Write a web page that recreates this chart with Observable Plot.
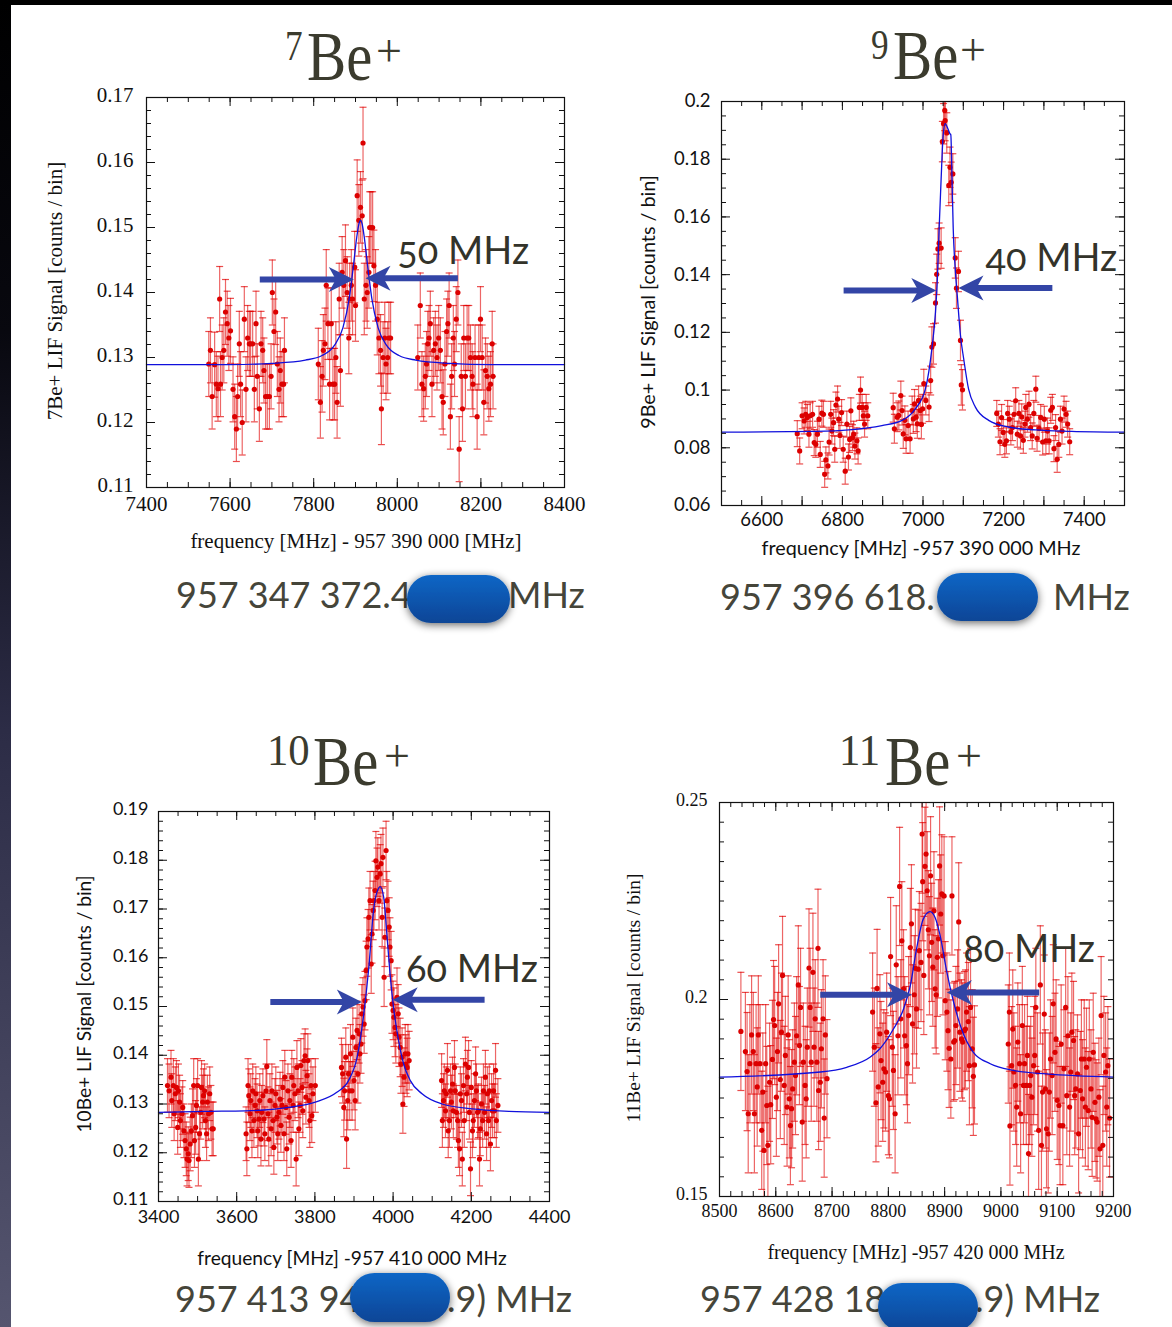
<!DOCTYPE html>
<html><head><meta charset="utf-8">
<script src="https://cdn.jsdelivr.net/npm/d3@7"></script>
<script src="https://cdn.jsdelivr.net/npm/@observablehq/plot@0.6"></script>
<style>
html,body{margin:0;padding:0;background:#fff;}
#page{position:relative;width:1172px;height:1327px;overflow:hidden;background:#fff;}
</style></head><body><div id="page"></div>
<script>
// ---------- 7Be+ ----------
const be7Left = [[7549,0.1290],[7553,0.1311],[7557,0.1240],[7563,0.1289],[7567,0.1259],[7571,0.1252],[7575,0.1390],[7577,0.1259],[7581,0.1300],[7585,0.1311],[7589,0.1370],[7593,0.1352],[7597,0.1330],[7601,0.1341],[7607,0.1251],[7611,0.1209],[7615,0.1190],[7618,0.1240],[7622,0.1321],[7625,0.1259],[7629,0.1200],[7634,0.1359],[7638,0.1251],[7642,0.1330],[7646,0.1321],[7649,0.1321],[7654,0.1321],[7658,0.1251],[7662,0.1352],[7665,0.1271],[7670,0.1221],[7674,0.1321],[7678,0.1311],[7681,0.1280],[7685,0.1240],[7689,0.1240],[7694,0.1240],[7698,0.1271],[7701,0.1400],[7705,0.1340],[7709,0.1370],[7713,0.1290],[7717,0.1251],[7720,0.1280],[7724,0.1259],[7728,0.1259],[7730,0.1311]];
const be7Center = [[7811,0.1290],[7816,0.1231],[7820,0.1271],[7823,0.1311],[7827,0.1321],[7830,0.1411],[7834,0.1352],[7838,0.1259],[7842,0.1352],[7846,0.1259],[7850,0.1259],[7853,0.1300],[7856,0.1231],[7861,0.1390],[7864,0.1280],[7868,0.1431],[7872,0.1411],[7876,0.1449],[7880,0.1400],[7884,0.1330],[7886,0.1390],[7890,0.1411],[7893,0.1390],[7898,0.1439],[7900,0.1380],[7904,0.1549],[7908,0.1511],[7912,0.1531],[7916,0.1518],[7918,0.1630],[7921,0.1390],[7925,0.1411],[7928,0.1400],[7932,0.1431],[7934,0.1500],[7937,0.1500],[7941,0.1500],[7944,0.1441],[7948,0.1411],[7952,0.1359],[7956,0.1330],[7960,0.1311],[7962,0.1221],[7966,0.1300],[7970,0.1330],[7973,0.1290],[7977,0.1300],[7980,0.1330],[7984,0.1330]];
const be7Right = [[8049,0.1300],[8055,0.1380],[8059,0.1259],[8063,0.1252],[8067,0.1271],[8070,0.1290],[8073,0.1321],[8076,0.1330],[8079,0.1352],[8083,0.1259],[8087,0.1311],[8091,0.1321],[8095,0.1300],[8099,0.1330],[8103,0.1311],[8107,0.1240],[8110,0.1231],[8114,0.1290],[8118,0.1340],[8121,0.1352],[8124,0.1380],[8127,0.1209],[8130,0.1271],[8134,0.1330],[8137,0.1290],[8141,0.1359],[8145,0.1400],[8148,0.1159],[8153,0.1271],[8156,0.1221],[8159,0.1330],[8163,0.1271],[8167,0.1330],[8171,0.1330],[8175,0.1300],[8179,0.1271],[8181,0.1259],[8186,0.1300],[8191,0.1209],[8195,0.1300],[8199,0.1359],[8203,0.1300],[8207,0.1231],[8211,0.1280],[8215,0.1271],[8219,0.1252],[8223,0.1259],[8227,0.1321],[8229,0.1271]];
const be7Err = [0.005, 0.0055, 0.005];
const be7Fit = [[7400,0.1289],[7600,0.1289],[7700,0.1291],[7780,0.1296],[7820,0.1303],[7850,0.1319],[7870,0.1346],[7885,0.1391],[7895,0.1441],[7903,0.1485],[7908,0.1505],[7912,0.1511],[7916,0.1505],[7921,0.1485],[7929,0.1441],[7939,0.1391],[7954,0.1346],[7974,0.1319],[8004,0.1303],[8044,0.1296],[8124,0.1291],[8224,0.1289],[8400,0.1289]];
const be7Arrows = [{x1:7671, x2:7896, y:0.1420}, {x1:8145, x2:7924, y:0.1422}];
const be7Width = {x: 8000, y: 0.1444, label: "50 MHz"};
const be7XTicks = [7400,7600,7800,8000,8200,8400];
const be7YTicks = [0.11,0.12,0.13,0.14,0.15,0.16,0.17];

// ---------- 9Be+ ----------
const be9Left = [[6688,0.0849],[6694,0.0789],[6700,0.0911],[6705,0.0893],[6709,0.0916],[6713,0.0905],[6717,0.0847],[6720,0.0911],[6726,0.0916],[6730,0.0818],[6734,0.0812],[6738,0.0847],[6742,0.0899],[6745,0.0777],[6749,0.0920],[6753,0.0916],[6756,0.0708],[6759,0.0758],[6764,0.0737],[6767,0.0820],[6771,0.0916],[6774,0.0858],[6778,0.0887],[6781,0.0795],[6784,0.0948],[6788,0.0969],[6791,0.0899],[6794,0.0843],[6798,0.0922],[6802,0.0795],[6807,0.0719],[6811,0.0882],[6815,0.0768],[6818,0.0829],[6821,0.0928],[6825,0.0835],[6828,0.0847],[6831,0.0806],[6836,0.0824],[6839,0.0789],[6842,0.0940],[6845,0.1000],[6849,0.0940],[6852,0.0911],[6855,0.0882],[6859,0.0940],[6863,0.0911]];
const be9Mid = [[6926,0.0939],[6929,0.0866],[6936,0.0906],[6940,0.0912],[6945,0.0981],[6948,0.0929],[6951,0.0848],[6955,0.0895],[6958,0.0831],[6963,0.0877],[6968,0.0831],[6973,0.0929],[6976,0.0900],[6979,0.0952],[6983,0.0906],[6986,0.0883],[6989,0.0964],[6993,0.0929],[6996,0.0881],[6999,0.0935],[7002,0.1022],[7007,0.0964],[7015,0.0941],[7019,0.1033]];
const be9Peak = [[7022,0.1149],[7026,0.1160],[7031,0.1302],[7034,0.1401],[7037,0.1489],[7040,0.1509],[7045,0.1492],[7048,0.1861],[7051,0.1923],[7054,0.1969],[7055,0.1934],[7059,0.1891],[7064,0.1709],[7067,0.1772],[7070,0.1720],[7074,0.1749],[7080,0.1458],[7083,0.1353],[7088,0.1411],[7093,0.1172],[7095,0.1018],[7098,0.1001]];
const be9Right = [[7183,0.0919],[7187,0.0882],[7191,0.0821],[7195,0.0905],[7199,0.0853],[7203,0.0812],[7207,0.0824],[7210,0.0919],[7214,0.0899],[7218,0.0855],[7222,0.0870],[7226,0.0916],[7230,0.0963],[7234,0.0847],[7238,0.0919],[7242,0.0841],[7245,0.0907],[7249,0.0826],[7253,0.0882],[7255,0.0940],[7259,0.0899],[7263,0.0951],[7267,0.0870],[7271,0.0841],[7275,0.0919],[7280,0.1003],[7283,0.0833],[7288,0.0867],[7292,0.0905],[7297,0.0820],[7301,0.0899],[7305,0.0824],[7309,0.0858],[7313,0.0824],[7317,0.0930],[7321,0.0940],[7325,0.0797],[7329,0.0870],[7333,0.0760],[7337,0.0812],[7341,0.0899],[7345,0.0858],[7350,0.0934],[7355,0.0916],[7359,0.0882],[7364,0.0821]];
const be9Err = [0.0045, 0.005, 0.007, 0.0045];
const be9Fit = [[6500,0.0854],[6733,0.0857],[6816,0.0862],[6898,0.0877],[6948,0.0895],[6981,0.0935],[7006,0.1004],[7022,0.1143],[7031,0.1270],[7036,0.1397],[7040,0.1559],[7045,0.1732],[7050,0.1882],[7055,0.1923],[7062,0.1905],[7067,0.1888],[7069,0.1885],[7072,0.1732],[7075,0.1559],[7080,0.1420],[7085,0.1328],[7093,0.1189],[7101,0.1108],[7113,0.1004],[7130,0.0941],[7163,0.0895],[7212,0.0872],[7278,0.0862],[7369,0.0857],[7500,0.0854]];
const be9Arrows = [{x1:6803, x2:7033, y:0.1345}, {x1:7321, x2:7088, y:0.1354}];
const be9Width = {x: 7155, y: 0.1414, label: "40 MHz"};
const be9XTicks = [6600,6800,7000,7200,7400];
const be9YTicks = [0.06,0.08,0.1,0.12,0.14,0.16,0.18,0.2];

// ---------- 10Be+ ----------
const be10A = [[3423,0.1338],[3427,0.1327],[3432,0.1355],[3434,0.1307],[3438,0.1338],[3440,0.1280],[3443,0.1321],[3446,0.1334],[3449,0.1252],[3451,0.1327],[3454,0.1304],[3456,0.1266],[3460,0.1280],[3462,0.1293],[3465,0.1245],[3468,0.1225],[3471,0.1208],[3473,0.1187],[3476,0.1198],[3478,0.1184],[3481,0.1218],[3484,0.1245],[3487,0.1276],[3490,0.1338],[3492,0.1225],[3495,0.1252],[3497,0.1297],[3500,0.1338],[3502,0.1187],[3505,0.1239],[3508,0.1283],[3510,0.1334],[3513,0.1304],[3515,0.1317],[3518,0.1327],[3520,0.1266],[3523,0.1239],[3525,0.1304],[3528,0.1280],[3531,0.1321],[3534,0.1283],[3537,0.1249],[3540,0.1249]];
const be10B = [[3624,0.1239],[3626,0.1208],[3629,0.1338],[3631,0.1317],[3634,0.1280],[3636,0.1307],[3639,0.1245],[3641,0.1327],[3644,0.1266],[3647,0.1297],[3649,0.1321],[3652,0.1286],[3654,0.1245],[3657,0.1269],[3659,0.1307],[3662,0.1228],[3664,0.1283],[3667,0.1317],[3670,0.1269],[3672,0.1239],[3675,0.1327],[3677,0.1377],[3680,0.1280],[3682,0.1228],[3685,0.1307],[3688,0.1249],[3690,0.1327],[3693,0.1266],[3695,0.1211],[3698,0.1297],[3700,0.1321],[3703,0.1273],[3705,0.1239],[3708,0.1283],[3711,0.1310],[3713,0.1256],[3716,0.1297],[3718,0.1334],[3721,0.1239],[3723,0.1355],[3726,0.1293],[3728,0.1208],[3731,0.1327],[3734,0.1273],[3736,0.1307],[3739,0.1225],[3741,0.1355],[3744,0.1297],[3746,0.1338],[3749,0.1321],[3752,0.1187],[3754,0.1375],[3757,0.1327],[3759,0.1249],[3762,0.1297],[3764,0.1379],[3767,0.1334],[3769,0.1286],[3772,0.1389],[3775,0.1399],[3777,0.1314],[3780,0.1358],[3782,0.1389],[3785,0.1307],[3787,0.1266],[3790,0.1338],[3792,0.1276],[3795,0.1321],[3801,0.1338]];
const be10C = [[3868,0.1375],[3871,0.1362],[3874,0.1293],[3876,0.1327],[3879,0.1396],[3881,0.1228],[3884,0.1307],[3886,0.1362],[3889,0.1327],[3891,0.1403],[3895,0.1327],[3897,0.1437],[3900,0.1348],[3903,0.1307],[3905,0.1416],[3908,0.1451],[3910,0.1362],[3913,0.1444],[3915,0.1403],[3918,0.1423],[3920,0.1485],[3923,0.1499],[3926,0.1464],[3928,0.1512],[3931,0.1574],[3933,0.1622],[3936,0.1639],[3938,0.1683],[3941,0.1717],[3944,0.1587],[3946,0.1649],[3949,0.1697],[3951,0.1717],[3954,0.1738],[3956,0.1799],[3959,0.1765],[3961,0.1786],[3964,0.1717],[3967,0.1772],[3969,0.1793],[3972,0.1683],[3974,0.1806],[3977,0.1560],[3979,0.1642],[3982,0.1820],[3984,0.1717],[3987,0.1697],[3990,0.1663],[3992,0.1622],[3995,0.1594],[3997,0.1505],[4000,0.1492],[4002,0.1478],[4005,0.1457],[4007,0.1444],[4010,0.1519],[4013,0.1485],[4015,0.1437],[4018,0.1416],[4020,0.1382],[4023,0.1396],[4025,0.1300],[4028,0.1355],[4031,0.1403],[4033,0.1382],[4036,0.1375],[4038,0.1403],[4041,0.1389]];
const be10D = [[4124,0.1348],[4126,0.1266],[4129,0.1307],[4131,0.1327],[4134,0.1286],[4136,0.1321],[4139,0.1369],[4141,0.1245],[4144,0.1266],[4147,0.1327],[4149,0.1304],[4152,0.1341],[4154,0.1286],[4157,0.1375],[4159,0.1327],[4162,0.1283],[4165,0.1266],[4167,0.1225],[4170,0.1208],[4172,0.1321],[4175,0.1307],[4177,0.1187],[4180,0.1338],[4182,0.1266],[4185,0.1382],[4188,0.1321],[4190,0.1355],[4193,0.1375],[4195,0.1283],[4198,0.1167],[4200,0.1334],[4203,0.1245],[4205,0.1266],[4208,0.1307],[4211,0.1362],[4213,0.1327],[4216,0.1283],[4218,0.1286],[4221,0.1187],[4223,0.1249],[4226,0.1300],[4229,0.1266],[4231,0.1327],[4234,0.1283],[4236,0.1355],[4239,0.1239],[4241,0.1321],[4244,0.1266],[4246,0.1327],[4249,0.1218],[4252,0.1307],[4254,0.1286],[4257,0.1327],[4259,0.1286],[4262,0.1369],[4264,0.1266],[4268,0.1297]];
const be10Err = [0.0055, 0.0055, 0.006, 0.0055];
const be10Fit = [[3400,0.1283],[3519,0.1285],[3622,0.1286],[3733,0.1293],[3801,0.1304],[3856,0.1324],[3886,0.1348],[3908,0.1396],[3925,0.1485],[3938,0.1581],[3950,0.1697],[3963,0.1743],[3967,0.1746],[3976,0.1724],[3984,0.1649],[3993,0.1560],[4001,0.1499],[4014,0.1430],[4027,0.1382],[4044,0.1348],[4074,0.1321],[4125,0.1300],[4202,0.1290],[4296,0.1285],[4400,0.1283]];
const be10Arrows = [{x1:3686, x2:3920, y:0.1509}, {x1:4234, x2:3999, y:0.1514}];
const be10Width = {x: 4033, y: 0.1550, label: "60 MHz"};
const be10XTicks = [3400,3600,3800,4000,4200,4400];
const be10YTicks = [0.11,0.12,0.13,0.14,0.15,0.16,0.17,0.18,0.19];

// ---------- 11Be+ ----------
const be11Left = [[8538,0.1919],[8546,0.1868],[8549,0.1817],[8551,0.1710],[8554,0.1837],[8557,0.1910],[8560,0.1868],[8562,0.1710],[8565,0.1837],[8567,0.1778],[8569,0.1910],[8572,0.1837],[8575,0.1668],[8577,0.1765],[8579,0.1617],[8582,0.1837],[8584,0.1731],[8586,0.1630],[8589,0.1790],[8591,0.1733],[8594,0.1848],[8596,0.1949],[8598,0.1934],[8601,0.1752],[8603,0.1868],[8605,0.1989],[8608,0.1797],[8610,0.1917],[8612,0.2061],[8615,0.1782],[8617,0.1858],[8620,0.1727],[8622,0.1910],[8624,0.1748],[8626,0.1680],[8628,0.1723],[8630,0.1773],[8633,0.1841],[8635,0.1807],[8637,0.1908],[8640,0.2037],[8642,0.1883],[8644,0.1980],[8647,0.1689],[8649,0.1841],[8652,0.1782],[8654,0.1748],[8656,0.1879],[8659,0.2080],[8661,0.1980],[8663,0.1841],[8666,0.2069],[8668,0.1879],[8670,0.1951],[8673,0.1841],[8675,0.2130],[8676,0.1769],[8679,0.1790],[8681,0.1875],[8684,0.1951],[8686,0.1699],[8688,0.1910],[8691,0.1799]];
const be11Center = [[8772,0.1968],[8775,0.1879],[8778,0.1738],[8780,0.2028],[8782,0.1778],[8785,0.1913],[8787,0.1845],[8790,0.1790],[8792,0.1824],[8795,0.1816],[8797,0.1917],[8800,0.1756],[8802,0.1748],[8804,0.2109],[8807,0.1879],[8809,0.1820],[8812,0.1710],[8814,0.2088],[8817,0.1908],[8820,0.2287],[8822,0.1951],[8824,0.2149],[8827,0.2027],[8829,0.1908],[8832,0.1883],[8834,0.1837],[8836,0.1959],[8839,0.2132],[8841,0.2192],[8843,0.1938],[8846,0.2012],[8848,0.2079],[8850,0.1976],[8853,0.2077],[8855,0.2124],[8858,0.2094],[8860,0.2420],[8861,0.2299],[8863,0.2061],[8865,0.2338],[8867,0.2369],[8869,0.2276],[8871,0.2177],[8873,0.2111],[8875,0.2314],[8877,0.2145],[8879,0.2082],[8881,0.2225],[8883,0.2027],[8885,0.2012],[8887,0.2107],[8889,0.2154],[8891,0.2339],[8893,0.2217],[8895,0.2268],[8897,0.2111],[8899,0.2263],[8901,0.1997],[8904,0.1968],[8906,0.1921],[8908,0.1876],[8911,0.1849],[8913,0.2263],[8916,0.1892],[8918,0.1896],[8920,0.1934],[8923,0.1976],[8925,0.2197],[8927,0.1917],[8930,0.1900],[8932,0.1892],[8935,0.1921],[8937,0.1925],[8939,0.1968],[8942,0.1944],[8944,0.1832],[8946,0.1980],[8949,0.1875],[8951,0.1805],[8953,0.1834]];
const be11Right = [[9013,0.1887],[9015,0.1968],[9016,0.1679],[9019,0.1832],[9021,0.1925],[9023,0.1816],[9026,0.1782],[9028,0.1727],[9030,0.1892],[9033,0.1837],[9035,0.1710],[9038,0.1934],[9040,0.1782],[9042,0.1837],[9045,0.1782],[9047,0.1858],[9049,0.1609],[9051,0.1782],[9053,0.1807],[9055,0.1752],[9058,0.1832],[9060,0.1858],[9062,0.1980],[9065,0.1816],[9067,0.1668],[9070,0.2037],[9072,0.1630],[9074,0.1765],[9077,0.1963],[9079,0.1773],[9081,0.1672],[9084,0.1659],[9086,0.1765],[9088,0.1849],[9091,0.1807],[9093,0.1989],[9096,0.1866],[9098,0.1900],[9100,0.1744],[9103,0.1731],[9105,0.1680],[9107,0.1887],[9110,0.1680],[9112,0.1824],[9115,0.1980],[9117,0.1756],[9119,0.1908],[9122,0.1727],[9124,0.1816],[9126,0.1917],[9129,0.1896],[9131,0.1756],[9133,0.1773],[9136,0.1811],[9138,0.1659],[9141,0.1769],[9143,0.1849],[9145,0.1748],[9148,0.1849],[9150,0.1727],[9152,0.1828],[9155,0.1718],[9157,0.1849],[9160,0.1773],[9162,0.1701],[9164,0.1866],[9167,0.1739],[9169,0.1697],[9171,0.1689],[9174,0.1752],[9176,0.1621],[9178,0.1959],[9181,0.1630],[9183,0.1858],[9186,0.1816],[9188,0.1727],[9190,0.1832],[9193,0.1699]];
const be11Err = [0.015, 0.015, 0.015];
const be11Fit = [[8500,0.1803],[8679,0.1816],[8726,0.1828],[8768,0.1854],[8785,0.1875],[8809,0.1925],[8827,0.1976],[8839,0.2035],[8850,0.2128],[8862,0.2204],[8874,0.2223],[8883,0.2208],[8892,0.2162],[8904,0.2069],[8916,0.1993],[8930,0.1925],[8951,0.1866],[8981,0.1837],[9022,0.1820],[9081,0.1811],[9200,0.1803]];
const be11Arrows = [{x1:8679, x2:8842, y:0.2012}, {x1:9068, x2:8904, y:0.2018}];
const be11Width = {x: 8933, y: 0.2094, label: "80 MHz"};
const be11XTicks = [8500,8600,8700,8800,8900,9000,9100,9200];
const be11YTicks = [0.15,0.2,0.25];

// ---------- drawing ----------
const page = document.getElementById("page");
const SERIF = "'Liberation Serif', 'Times New Roman', serif";
const SANS = "Lato, 'Open Sans', sans-serif";
const INK = "#3b3b2e";
const ARROW = "#3345a6";

const cap = {draw(ctx) { ctx.moveTo(-3.5, 0); ctx.lineTo(3.5, 0); }};
const headR = {draw(ctx) { ctx.moveTo(0, 0); ctx.lineTo(-25, -12.5); ctx.lineTo(-18, 0); ctx.lineTo(-25, 12.5); ctx.closePath(); }};
const headL = {draw(ctx) { ctx.moveTo(0, 0); ctx.lineTo(25, -12.5); ctx.lineTo(18, 0); ctx.lineTo(25, 12.5); ctx.closePath(); }};

function range(a, b, s) { return d3.range(0, Math.round((b - a) / s) + 1).map(i => a + i * s); }

function panel(p) {
  const rows = p.clusters.flatMap((c, i) => c.map(([x, y]) => ({x, y, e: p.errs[i]})));
  const {left, top, w: W, h: H} = p.frame;
  const ml = 60, mr = 12, mt = 12, mb = 40;
  const tk = {stroke: "#111", strokeWidth: 1};
  const xMinor = range(p.xDomain[0], p.xDomain[1], p.xMinor);
  const yMinor = range(p.yDomain[0], p.yDomain[1], p.yMinor);
  const xMajor = range(p.xDomain[0], p.xDomain[1], p.xMajor);
  const yMajor = range(p.yDomain[0], p.yDomain[1], p.yMajor);
  const chart = Plot.plot({
    width: W + ml + mr, height: H + mt + mb,
    marginLeft: ml, marginRight: mr, marginTop: mt, marginBottom: mb,
    x: {domain: p.xDomain}, y: {domain: p.yDomain},
    style: {fontFamily: p.font, fontSize: p.fontSize + "px", color: "#111", background: "none", overflow: "visible"},
    marks: [
      Plot.ruleX(rows, {x: "x", y1: d => d.y - d.e, y2: d => d.y + d.e, stroke: "#e10000", strokeOpacity: 0.6, strokeWidth: 1.2, clip: true}),
      Plot.dot(rows, {x: "x", y: d => d.y - d.e, symbol: cap, fill: "none", stroke: "#e10000", strokeOpacity: 0.7, strokeWidth: 1.2, clip: true}),
      Plot.dot(rows, {x: "x", y: d => d.y + d.e, symbol: cap, fill: "none", stroke: "#e10000", strokeOpacity: 0.7, strokeWidth: 1.2, clip: true}),
      Plot.dot(rows, {x: "x", y: "y", r: 2.6, fill: "#dc0000", stroke: null}),
      Plot.line(p.fit, {x: d => d[0], y: d => d[1], curve: "monotone-x", stroke: "#1010dc", strokeWidth: 1.3}),
      Plot.arrow(p.arrows, {x1: "x1", x2: "x2", y1: "y", y2: "y", headLength: 0, insetEnd: 17, strokeWidth: 6, stroke: ARROW, strokeLinecap: "butt"}),
      Plot.dot(p.arrows.filter(a => a.x2 > a.x1), {x: "x2", y: "y", symbol: headR, fill: ARROW, stroke: null}),
      Plot.dot(p.arrows.filter(a => a.x2 < a.x1), {x: "x2", y: "y", symbol: headL, fill: ARROW, stroke: null}),
      Plot.text([p.width], {x: "x", y: "y", text: "label", textAnchor: "start", lineAnchor: "bottom", fontSize: 38, fontFamily: SANS, fill: "#33332a", fontVariant: "oldstyle-nums"}),
      Plot.ruleX(xMinor, {x: d => d, insetTop: H - 5, ...tk}),
      Plot.ruleX(xMinor, {x: d => d, insetBottom: H - 5, ...tk}),
      Plot.ruleX(xMajor, {x: d => d, insetTop: H - 9, ...tk}),
      Plot.ruleX(xMajor, {x: d => d, insetBottom: H - 9, ...tk}),
      Plot.ruleY(yMinor, {y: d => d, insetRight: W - 5, ...tk}),
      Plot.ruleY(yMinor, {y: d => d, insetLeft: W - 5, ...tk}),
      Plot.ruleY(yMajor, {y: d => d, insetRight: W - 9, ...tk}),
      Plot.ruleY(yMajor, {y: d => d, insetLeft: W - 9, ...tk}),
      Plot.frame({stroke: "#111", strokeWidth: 1.2}),
      Plot.axisX(p.xTicks, {tickSize: 0, tickPadding: p.xPad, tickFormat: d => String(d), label: null, fontSize: p.fontSize, fontFamily: p.font}),
      Plot.axisY(p.yTicks, {tickSize: 0, tickPadding: p.yPad, tickFormat: d => String(d), label: null, fontSize: p.fontSize, fontFamily: p.font, dy: p.yDy || 0})
    ]
  });
  chart.style.position = "absolute";
  chart.style.left = (left - ml) + "px";
  chart.style.top = (top - mt) + "px";
  page.appendChild(chart);
}

panel({clusters: [be7Left, be7Center, be7Right], errs: be7Err, fit: be7Fit, arrows: be7Arrows, width: be7Width,
  xDomain: [7400, 8400], yDomain: [0.11, 0.17], xMinor: 50, xMajor: 200, yMinor: 0.002, yMajor: 0.01,
  xTicks: be7XTicks, yTicks: be7YTicks, frame: {left: 146, top: 97, w: 418, h: 390},
  font: SERIF, fontSize: 21, xPad: 9, yPad: 13, yDy: -2});
panel({clusters: [be9Left, be9Mid, be9Peak, be9Right], errs: be9Err, fit: be9Fit, arrows: be9Arrows, width: be9Width,
  xDomain: [6500, 7500], yDomain: [0.06, 0.2], xMinor: 50, xMajor: 100, yMinor: 0.005, yMajor: 0.02,
  xTicks: be9XTicks, yTicks: be9YTicks, frame: {left: 721, top: 101, w: 403, h: 404},
  font: SANS, fontSize: 18.5, xPad: 7, yPad: 11});
panel({clusters: [be10A, be10B, be10C, be10D], errs: be10Err, fit: be10Fit, arrows: be10Arrows, width: be10Width,
  xDomain: [3400, 4400], yDomain: [0.11, 0.19], xMinor: 50, xMajor: 200, yMinor: 0.002, yMajor: 0.01,
  xTicks: be10XTicks, yTicks: be10YTicks, frame: {left: 158, top: 811, w: 391, h: 390},
  font: SANS, fontSize: 18, xPad: 9, yPad: 10, yDy: -2});
panel({clusters: [be11Left, be11Center, be11Right], errs: be11Err, fit: be11Fit, arrows: be11Arrows, width: be11Width,
  xDomain: [8500, 9200], yDomain: [0.15, 0.25], xMinor: 20, xMajor: 100, yMinor: 0.005, yMajor: 0.05,
  xTicks: be11XTicks, yTicks: be11YTicks, frame: {left: 719, top: 802, w: 394, h: 394},
  font: SERIF, fontSize: 18, xPad: 8, yPad: 12, yDy: -2});

// ---------- overlay: titles, axis titles, values, pills ----------
function title(sup, xs, xb, xp, base, supScale, supSize) {
  return `<g fill="${INK}" font-family="${SERIF}">
    <text transform="translate(${xs},${base - 20}) scale(${supScale},1)" font-size="${supSize}">${sup}</text>
    <text transform="translate(${xb},${base}) scale(0.84,1)" font-size="70">Be</text>
    <text transform="translate(${xp},${base - 14})" font-size="46">+</text></g>`;
}
function ylab(text, x, y, font, size) {
  return `<text transform="translate(${x},${y}) rotate(-90)" text-anchor="middle" font-family="${font}" font-size="${size}" fill="#111">${text}</text>`;
}
function xlab(text, x, y, font, size) {
  return `<text x="${x}" y="${y}" text-anchor="middle" font-family="${font}" font-size="${size}" fill="#111">${text}</text>`;
}
function val(text, x, y) {
  return `<text x="${x}" y="${y}" font-family="${SANS}" font-size="36" font-weight="400" fill="#45453a">${text}</text>`;
}
function pill(x, y, w, h) {
  return `<rect x="${x}" y="${y}" width="${w}" height="${h}" rx="${h / 2}" fill="url(#pillGrad)" filter="url(#pillShadow)"/>`;
}
const overlay = `<svg width="1172" height="1327" style="position:absolute;left:0;top:0;overflow:visible" xmlns="http://www.w3.org/2000/svg">
<defs>
  <linearGradient id="pillGrad" x1="0" y1="0" x2="0" y2="1"><stop offset="0" stop-color="#0f66c6"/><stop offset="1" stop-color="#0a4596"/></linearGradient>
  <linearGradient id="stripGrad" x1="0" y1="0" x2="0" y2="1"><stop offset="0" stop-color="#000"/><stop offset="0.25" stop-color="#08080f"/><stop offset="0.55" stop-color="#2c2c46"/><stop offset="1" stop-color="#55556f"/></linearGradient>
  <filter id="pillShadow" x="-30%" y="-40%" width="160%" height="180%"><feGaussianBlur in="SourceAlpha" stdDeviation="4"/><feOffset dx="0" dy="2"/><feComponentTransfer><feFuncA type="linear" slope="0.6"/></feComponentTransfer><feMerge><feMergeNode/><feMergeNode in="SourceGraphic"/></feMerge></filter>
</defs>
<rect x="0" y="0" width="1172" height="5" fill="#000"/>
<rect x="0" y="0" width="11" height="1327" fill="url(#stripGrad)"/>
${title("7", 285, 307, 376, 80, 0.84, 42)}
${title("9", 871, 893, 960, 79, 0.84, 42)}
${title("10", 267, 313, 384, 785, 0.95, 45)}
${title("11", 839, 885, 956, 785, 0.95, 45)}
${ylab("7Be+ LIF Signal [counts / bin]", 62, 291, SERIF, 21)}
${xlab("frequency [MHz] - 957 390 000 [MHz]", 356, 548, SERIF, 21)}
${ylab("9Be+ LIF Signal [counts / bin]", 655, 302, SANS, 19.8)}
${xlab("frequency [MHz] -957 390 000 MHz", 921, 555, SANS, 19.8)}
${ylab("10Be+ LIF Signal [counts / bin]", 91, 1004, SANS, 19.2)}
${xlab("frequency [MHz] -957 410 000 MHz", 352, 1265, SANS, 19.2)}
${ylab("11Be+ LIF Signal [counts / bin]", 640, 998, SERIF, 19.5)}
${xlab("frequency [MHz] -957 420 000 MHz", 916, 1259, SERIF, 20)}
${val("957 347 372.4", 176, 608)}${val("MHz", 508, 608)}
${val("957 396 618.", 720, 610)}${val("MHz", 1053, 610)}
${val("957 413 94", 175, 1312)}${val(".9) MHz", 447, 1312)}
${val("957 428 18", 700, 1312)}${val(".9) MHz", 975, 1312)}
${pill(407, 575, 103, 48)}
${pill(937, 573, 101, 48)}
${pill(350, 1273, 100, 49)}
${pill(878, 1283, 100, 48)}
</svg>`;
page.insertAdjacentHTML("beforeend", overlay);
</script></body></html>
